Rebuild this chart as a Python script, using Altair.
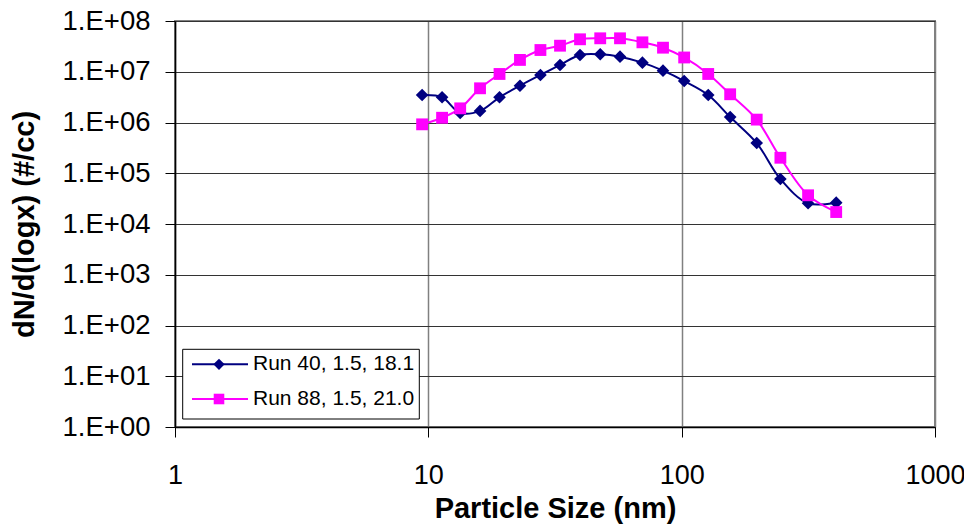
import altair as alt
import pandas as pd

# ---- data ----
sizes = [9.45, 11.33, 13.36, 16.0, 19.1, 23.0, 27.7, 33.1, 39.7, 47.7,
         57.1, 70.0, 84.4, 102.3, 127.3, 155.4, 197.8, 245.3, 315.5, 407.4]
run40 = [3.48e6, 3.14e6, 1.54e6, 1.69e6, 3.14e6, 5.31e6, 8.63e6, 1.36e7, 2.14e7, 2.21e7,
         1.98e7, 1.51e7, 1.05e7, 6.57e6, 3.48e6, 1.28e6, 3.94e5, 7.7e4, 2.56e4, 2.63e4]
run88 = [9.2e5, 1.24e6, 1.9e6, 4.72e6, 9.04e6, 1.71e7, 2.68e7, 3.26e7, 4.36e7, 4.56e7,
         4.56e7, 3.8e7, 2.98e7, 1.91e7, 9.04e6, 3.6e6, 1.14e6, 2.02e5, 3.68e4, 1.72e4]
series_names = ["Run 40, 1.5, 18.1", "Run 88, 1.5, 21.0"]
series_values = [run40, run88]
colors = ["#000080", "#FF00FF"]
shapes = ["diamond", "square"]
marker_sizes = [160, 140]
x_ticks = [1, 10, 100, 1000]
y_ticks = [1, 10, 100, 1e3, 1e4, 1e5, 1e6, 1e7, 1e8]
x_title = "Particle Size (nm)"
y_title = "dN/d(logx) (#/cc)"

FONT = "Liberation Sans"
W, H = 760, 406

rows = []
for name, vals in zip(series_names, series_values):
    for s, v in zip(sizes, vals):
        rows.append({"series": name, "size": s, "value": v})
df = pd.DataFrame(rows)

x_enc = alt.X(
    "size:Q",
    scale=alt.Scale(type="log", domain=[1, 1000], nice=False),
    axis=alt.Axis(
        values=x_ticks,
        labelExpr="format(datum.value, 'd')",
        title=x_title,
        titleFont=FONT, titleFontSize=29, titleFontWeight="bold", titleColor="black",
        titleBaseline="alphabetic", titleX=W / 2, titleY=90,
        labelFont=FONT, labelFontSize=27, labelColor="black",
        labelBaseline="alphabetic", labelPadding=46, labelFlush=False, labelOverlap=False,
        tickSize=10, tickColor="black", tickWidth=1,
        domainColor="black", domainWidth=1.5,
        grid=True, gridColor="#808080", gridWidth=1.5, zindex=0,
    ),
)
y_enc = alt.Y(
    "value:Q",
    scale=alt.Scale(type="log", domain=[1, 1e8], nice=False),
    axis=alt.Axis(
        values=y_ticks,
        labelExpr="'1.E+0' + round(log(datum.value) / LN10)",
        title=y_title,
        titleFont=FONT, titleFontSize=29, titleFontWeight="bold", titleColor="black",
        titleBaseline="alphabetic", titleAngle=270, titleX=-142, titleY=H / 2,
        labelFont=FONT, labelFontSize=27.5, labelColor="black",
        labelPadding=15, labelFlush=False, labelOverlap=False, labelBaseline="middle",
        tickSize=10, tickColor="black", tickWidth=1,
        domainColor="black", domainWidth=1.5,
        grid=True, gridColor="#333333", gridWidth=1, zindex=0,
    ),
)

layers = []
# lines first (both series), then markers (navy, then magenta)
for name, col in zip(series_names, colors):
    base = alt.Chart(df).transform_filter(alt.datum.series == name)
    layers.append(
        base.mark_line(color=col, strokeWidth=2, interpolate="catmull-rom").encode(x=x_enc, y=y_enc)
    )
for name, col, shp, msz in zip(series_names, colors, shapes, marker_sizes):
    base = alt.Chart(df).transform_filter(alt.datum.series == name)
    layers.append(
        base.mark_point(shape=shp, filled=True, size=msz, color=col, opacity=1).encode(x=x_enc, y=y_enc)
    )

# ---- legend box drawn inside the plot area ----
one = pd.DataFrame({"k": [0]})
layers.append(
    alt.Chart(one).mark_rect(fill="white", stroke="black", strokeWidth=1).encode(
        x=alt.value(7.7), x2=alt.value(244.3), y=alt.value(328.3), y2=alt.value(398)
    )
)
legend_rows_y = [343.3, 378.0]
for name, col, shp, msz, yy in zip(series_names, colors, shapes, marker_sizes, legend_rows_y):
    layers.append(
        alt.Chart(one).mark_rule(color=col, strokeWidth=2).encode(
            x=alt.value(17), x2=alt.value(73), y=alt.value(yy)
        )
    )
    layers.append(
        alt.Chart(one).mark_point(shape=shp, filled=True, size=msz * 0.8, color=col, opacity=1).encode(
            x=alt.value(44), y=alt.value(yy)
        )
    )
    layers.append(
        alt.Chart(one).mark_text(align="left", baseline="middle", font=FONT, fontSize=21, color="black").encode(
            x=alt.value(78), y=alt.value(yy), text=alt.value(name)
        )
    )

chart = (
    alt.layer(*layers)
    .properties(
        width=W, height=H,
        autosize=alt.AutoSizeParams(type="none"),
        padding={"left": 167, "top": 13, "right": 29, "bottom": 98},
        background="white",
    )
    .configure_view(stroke="#808080", strokeWidth=2)
)

chart.save("out.html", embed_options={"renderer": "svg", "actions": False})
